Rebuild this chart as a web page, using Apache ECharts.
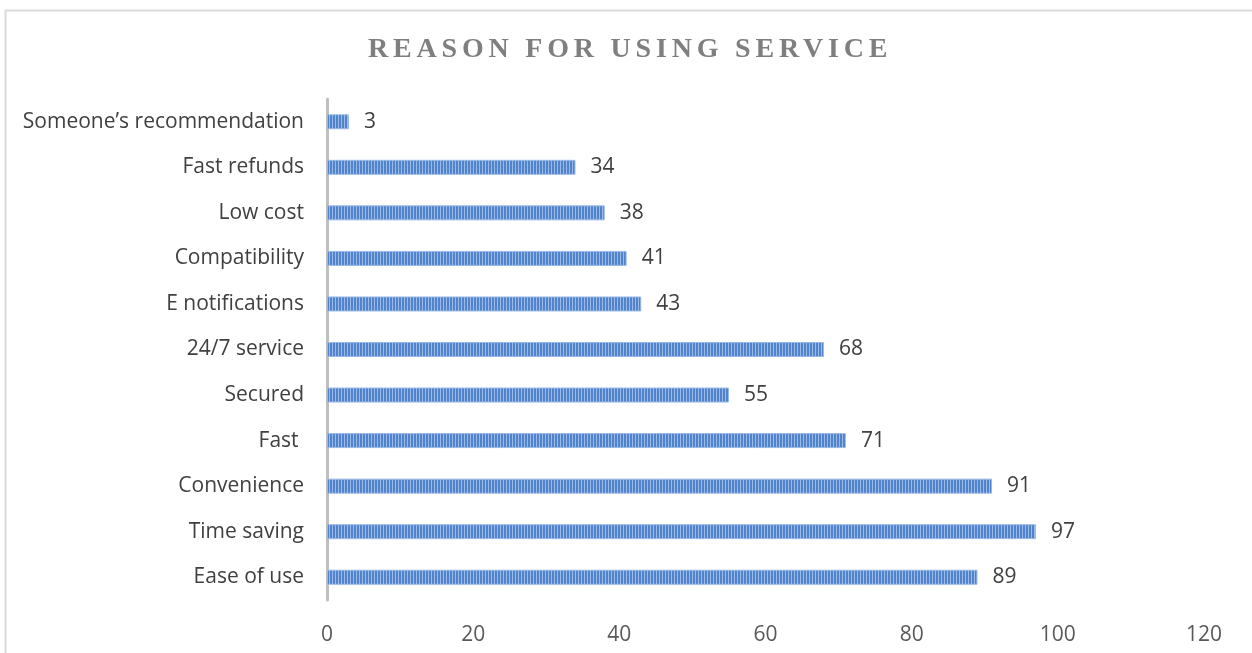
<!DOCTYPE html>
<html>
<head>
<meta charset="utf-8">
<script src="https://cdn.jsdelivr.net/npm/echarts@6/dist/echarts.min.js"></script>
<style>
html,body{margin:0;padding:0;background:#fff;}
#wrap{position:relative;width:1252px;height:653px;overflow:hidden;}
#chart{position:absolute;left:0;top:0;width:1252px;height:653px;}
#title{position:absolute;left:368px;top:34px;white-space:nowrap;font-family:"Liberation Serif","DejaVu Serif",serif;font-weight:bold;font-size:28px;line-height:28px;letter-spacing:4.8px;color:#7f7f7f;pointer-events:none;}
</style>
</head>
<body>
<div id="wrap">
<div id="chart"></div>
<div id="title">REASON FOR USING SERVICE</div>
</div>
<script>
const titleText = 'REASON FOR USING SERVICE';
const categories = ['Ease of use', 'Time saving', 'Convenience', 'Fast ', 'Secured', '24/7 service', 'E notifications', 'Compatibility', 'Low cost', 'Fast refunds', 'Someone\u2019s recommendation'];
const values = [89, 97, 91, 71, 55, 68, 43, 41, 38, 34, 3];
const xTicks = [0, 20, 40, 60, 80, 100, 120];

const pc = document.createElement('canvas');
pc.width = 3; pc.height = 4;
const ctx = pc.getContext('2d');
ctx.fillStyle = '#5183cb'; ctx.fillRect(0, 0, 3, 4);
ctx.fillStyle = '#9dbbe8'; ctx.fillRect(2, 0, 1, 4);

const chart = echarts.init(document.getElementById('chart'), null, {renderer: 'canvas'});
chart.setOption({
  animation: false,
  graphic: [{
    type: 'rect', shape: {x: 5.5, y: 10.5, width: 1300, height: 700},
    style: {fill: 'none', stroke: '#d9d9d9', lineWidth: 2}, silent: true
  }],
  grid: {left: 327, right: 48, top: 99, bottom: 53, containLabel: false},
  xAxis: {
    type: 'value', min: xTicks[0], max: xTicks[xTicks.length - 1], interval: 20,
    axisLine: {show: false}, axisTick: {show: false}, splitLine: {show: false},
    axisLabel: {color: '#595959', fontSize: 21, fontFamily: 'Open Sans', margin: 25}
  },
  yAxis: {
    type: 'category', data: categories,
    axisLine: {show: true, lineStyle: {color: '#bfbfbf', width: 3}},
    axisTick: {show: false},
    axisLabel: {color: '#404040', fontSize: 21, fontFamily: 'Open Sans', margin: 23, padding: [3, 0, 0, 0]}
  },
  series: [{
    type: 'bar', data: values, barWidth: 15,
    itemStyle: {color: {image: pc, repeat: 'repeat'}, borderColor: '#9ab8e6', borderWidth: 1},
    label: {show: true, position: 'right', distance: 15, color: '#404040', fontSize: 21, fontFamily: 'Open Sans', padding: [3, 0, 0, 0]}
  }]
});
</script>
</body>
</html>
